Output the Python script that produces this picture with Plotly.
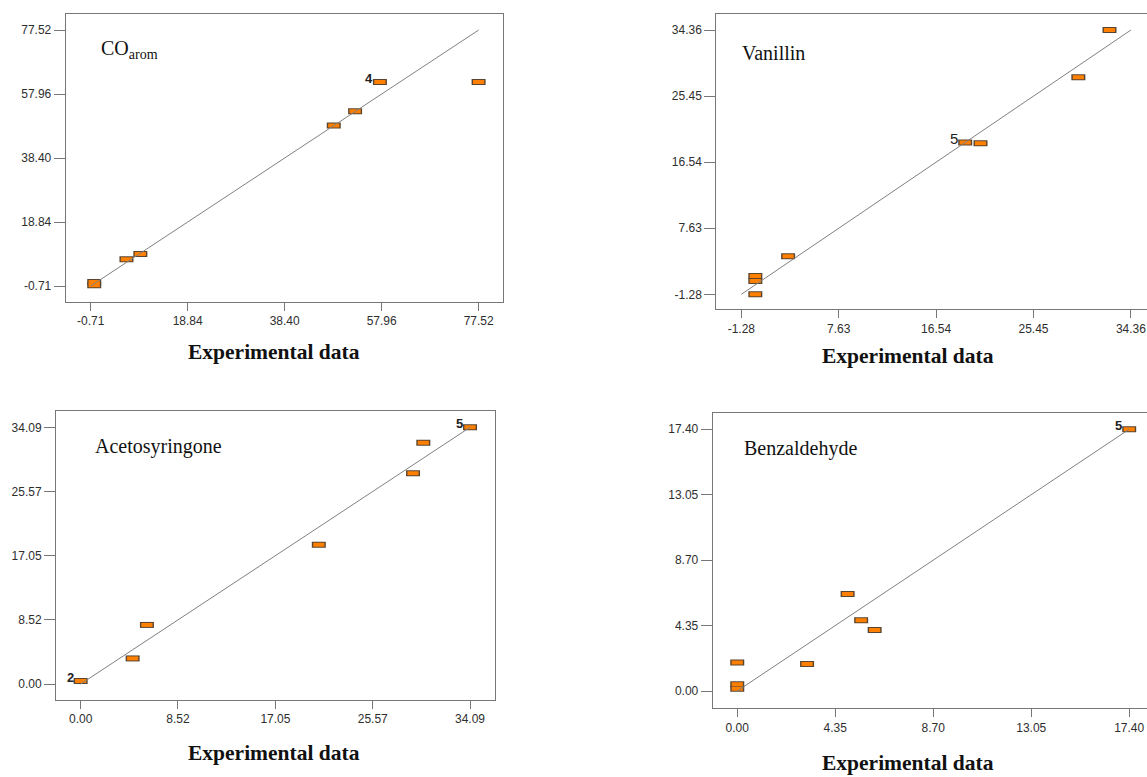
import plotly.graph_objects as go

# Predicted vs experimental values for four compounds
co_exp = [0.0, 0.0, 6.5, 9.3, 48.3, 52.6, 57.6, 77.5]
co_pred = [0.5, -0.5, 7.5, 9.1, 48.3, 52.7, 61.6, 61.6]
co_ticks = [-0.71, 18.84, 38.40, 57.96, 77.52]

van_exp = [0.0, 0.0, 0.0, 3.0, 19.2, 20.6, 29.55, 32.4]
van_pred = [-1.28, 0.5, 1.2, 3.85, 19.2, 19.1, 28.0, 34.36]
van_ticks = [-1.28, 7.63, 16.54, 25.45, 34.36]

ace_exp = [0.0, 4.55, 5.8, 20.85, 29.1, 30.0, 34.09]
ace_pred = [0.4, 3.4, 7.85, 18.5, 28.0, 32.05, 34.09]
ace_ticks = [0.00, 8.52, 17.05, 25.57, 34.09]

ben_exp = [0.0, 0.0, 0.0, 3.1, 4.9, 5.5, 6.1, 17.4]
ben_pred = [1.9, 0.45, 0.15, 1.8, 6.45, 4.7, 4.05, 17.4]
ben_ticks = [0.00, 4.35, 8.70, 13.05, 17.40]

# point labels: (x, y, text, bold)
co_labels = [(57.6, 61.6, "4", True)]
van_labels = [(19.2, 19.2, "5", False)]
ace_labels = [(0.0, 0.4, "2", True), (34.09, 34.09, "5", True)]
ben_labels = [(17.4, 17.4, "5", True)]

W, H = 1147, 777
TICK_FONT = dict(family="Liberation Sans, Arial", size=12, color="#2e2e2e")
FRAME = "#777777"
ORANGE = "#ff8000"
EDGE = "#5a4530"

panels = [
    dict(name="CO<sub>arom</sub>", x=co_exp, y=co_pred, ticks=co_ticks, labels=co_labels,
         dom=(65.7, 503.0, 14.0, 302.0), xr=(-5.75, 82.42), yr=(-5.6, 82.41),
         name_pos=(99, 50), title_pos=(274, 352)),
    dict(name="Vanillin", x=van_exp, y=van_pred, ticks=van_ticks, labels=van_labels,
         dom=(716.3, 1147.0, 14.3, 309.3), xr=(-3.57, 35.83), yr=(-3.30, 36.48),
         name_pos=(740, 53), title_pos=(908, 356)),
    dict(name="Acetosyringone", x=ace_exp, y=ace_pred, ticks=ace_ticks, labels=ace_labels,
         dom=(56.0, 494.7, 410.7, 700.0), xr=(-2.16, 36.25), yr=(-2.12, 36.3),
         name_pos=(93, 447), title_pos=(274, 753)),
    dict(name="Benzaldehyde", x=ben_exp, y=ben_pred, ticks=ben_ticks, labels=ben_labels,
         dom=(712.7, 1147.0, 413.3, 708.3), xr=(-1.09, 18.19), yr=(-1.15, 18.46),
         name_pos=(742, 448), title_pos=(908, 763)),
]

fig = go.Figure()
annotations = []

for i, p in enumerate(panels, start=1):
    xa = "x" if i == 1 else f"x{i}"
    ya = "y" if i == 1 else f"y{i}"
    # rectangular markers: dark outline under an orange core
    fig.add_trace(go.Scatter(x=p["x"], y=p["y"], mode="markers", xaxis=xa, yaxis=ya,
                             marker=dict(symbol="line-ew", size=10,
                                         line=dict(width=6, color=EDGE)),
                             hoverinfo="x+y", showlegend=False))
    fig.add_trace(go.Scatter(x=p["x"], y=p["y"], mode="markers", xaxis=xa, yaxis=ya,
                             marker=dict(symbol="line-ew", size=8,
                                         line=dict(width=4, color=ORANGE)),
                             hoverinfo="skip", showlegend=False))
    # y = x reference line
    lo, hi = p["ticks"][0], p["ticks"][-1]
    fig.add_trace(go.Scatter(x=[lo, hi], y=[lo, hi], mode="lines", xaxis=xa, yaxis=ya,
                             line=dict(color="#808080", width=1),
                             hoverinfo="skip", showlegend=False))

    x0, x1, y0, y1 = p["dom"]
    tt = [f"{v:.2f}" for v in p["ticks"]]
    common = dict(showgrid=False, zeroline=False, showline=True, linecolor=FRAME,
                  linewidth=1, mirror=True, ticks="outside", tickcolor=FRAME,
                  tickwidth=1, tickvals=p["ticks"], ticktext=tt, tickfont=TICK_FONT)
    fig.update_layout(**{
        ("xaxis" if i == 1 else f"xaxis{i}"): dict(
            domain=[x0 / W, x1 / W], range=list(p["xr"]), anchor=ya, ticklen=8, **common),
        ("yaxis" if i == 1 else f"yaxis{i}"): dict(
            domain=[1 - y1 / H, 1 - y0 / H], range=list(p["yr"]), anchor=xa, ticklen=11, **common),
    })

    nx, ny = p["name_pos"]
    annotations.append(dict(text=p["name"], xref="paper", yref="paper", x=nx / W, y=1 - ny / H,
                            xanchor="left", yanchor="middle", showarrow=False,
                            font=dict(family="Liberation Serif, Times New Roman", size=20,
                                      color="#111")))
    tx, ty = p["title_pos"]
    annotations.append(dict(text="<b>Experimental data</b>", xref="paper", yref="paper",
                            x=tx / W, y=1 - ty / H, xanchor="center", yanchor="middle",
                            showarrow=False,
                            font=dict(family="Liberation Serif, Times New Roman", size=21.5,
                                      color="#111")))
    for lx, ly, lt, bold in p["labels"]:
        annotations.append(dict(text=f"<b>{lt}</b>" if bold else lt, xref=xa, yref=ya,
                                x=lx, y=ly, xanchor="right", yanchor="middle",
                                xshift=-5, yshift=4, showarrow=False,
                                font=dict(family="Liberation Sans, Arial",
                                          size=13 if bold else 15, color="#222")))

fig.update_layout(width=W, height=H, margin=dict(l=0, r=0, t=0, b=0),
                  paper_bgcolor="white", plot_bgcolor="white",
                  annotations=annotations, showlegend=False)

fig.write_html("out.html")
